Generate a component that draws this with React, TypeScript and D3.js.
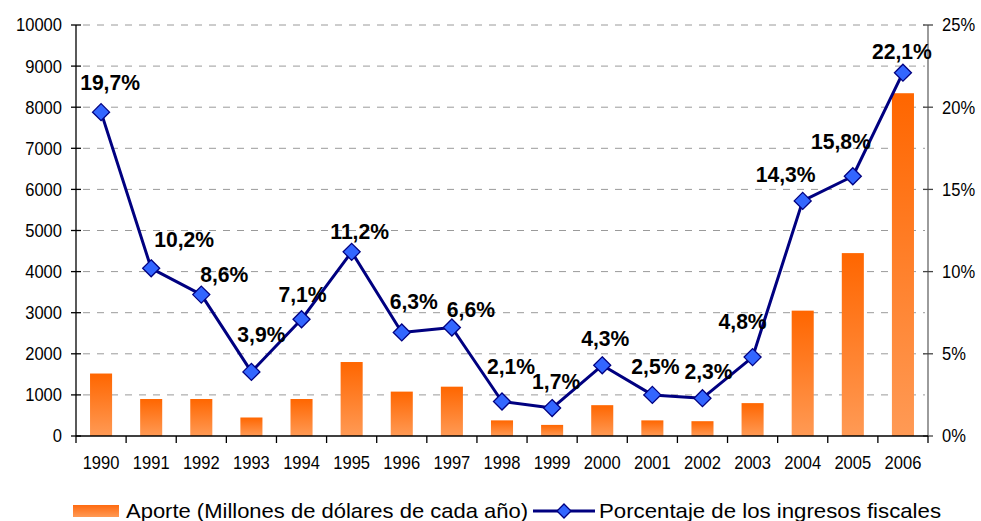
import React from "react";
import * as d3 from "d3";

const years = ["1990","1991","1992","1993","1994","1995","1996","1997","1998","1999","2000","2001","2002","2003","2004","2005","2006"];
const aporte = [1520, 900, 900, 450, 900, 1800, 1080, 1200, 380, 270, 750, 380, 360, 800, 3050, 4450, 8340];
const porcentaje = [19.7, 10.2, 8.6, 3.9, 7.1, 11.2, 6.3, 6.6, 2.1, 1.7, 4.3, 2.5, 2.3, 4.8, 14.3, 15.8, 22.1];
const pctLabels = ["19,7%","10,2%","8,6%","3,9%","7,1%","11,2%","6,3%","6,6%","2,1%","1,7%","4,3%","2,5%","2,3%","4,8%","14,3%","15,8%","22,1%"];
const leftTicks = [0,1000,2000,3000,4000,5000,6000,7000,8000,9000,10000];
const rightTicks = [0,5,10,15,20,25];
const legendBar = "Aporte (Millones de dólares de cada año)";
const legendLine = "Porcentaje de los ingresos fiscales";
// label placement offsets (label centre/baseline relative to point)
const labelDx = [9, 33, 23, 10, 1, 8, 12, 19, 9, 4, 3, 3, 6, -10, -17, -12, -1];
const labelDy = [-22, -21, -13, -30, -17, -13, -23, -10, -27, -19, -19, -21, -19, -28, -19, -27, -14];

const W = 981, H = 521;
const L = 76, R = 928, T = 25, B = 436;
const FONT = "'Liberation Sans', Arial, sans-serif";

function SText(props: { x: number; y: number; anchor: string; size: number; sx?: number; weight?: string; children: React.ReactNode; dy?: string }) {
  const { x, y, anchor, size, sx = 0.92, weight = "normal", children, dy } = props;
  return (
    <g transform={`translate(${x},${y}) scale(${sx},1)`}>
      <text x={0} y={0} dy={dy} textAnchor={anchor as any} fontSize={size} fontWeight={weight}>{children}</text>
    </g>
  );
}

export default function App() {
  const x = d3.scaleBand<string>().domain(years).range([L, R]).padding(0);
  const yL = d3.scaleLinear().domain([0, 10000]).range([B, T]);
  const yR = d3.scaleLinear().domain([0, 25]).range([B, T]);
  const bw = x.bandwidth();
  const cx = (yr: string) => (x(yr) as number) + bw / 2;
  const line = d3.line<number>().x((_, i) => cx(years[i])).y((d) => yR(d));
  const diamond = (px: number, py: number, r = 8.5) =>
    `M${px},${py - r}L${px + r},${py}L${px},${py + r}L${px - r},${py}Z`;
  const boundaries = d3.range(years.length + 1).map((k) => L + k * bw);

  return (
    <div style={{ position: "absolute", left: 0, top: 0 }}>
      <svg width={W} height={H} style={{ display: "block", background: "#fff" }} fontFamily={FONT}>
        <defs>
          <linearGradient id="barGrad" x1="0" y1="0" x2="0" y2="1">
            <stop offset="0%" stopColor="#FF6600" />
            <stop offset="100%" stopColor="#FF9A55" />
          </linearGradient>
          <linearGradient id="legGrad" x1="0" y1="0" x2="0" y2="1">
            <stop offset="0%" stopColor="#FF6A10" />
            <stop offset="100%" stopColor="#FF9A55" />
          </linearGradient>
        </defs>
        {/* gridlines */}
        {leftTicks.filter((t) => t > 0).map((t) => (
          <line key={"g" + t} x1={L + 7} x2={R - 3} y1={yL(t)} y2={yL(t)} stroke="#9a9a9a" strokeWidth={1} strokeDasharray="7,7" />
        ))}
        {/* bars */}
        {aporte.map((v, i) => (
          <rect key={"b" + i} x={cx(years[i]) - bw * 0.22} width={bw * 0.44} y={yL(v)} height={B - yL(v)} fill="url(#barGrad)" />
        ))}
        {/* left axis */}
        <line x1={L} x2={L} y1={T} y2={B} stroke="#000" strokeWidth={1.3} />
        {leftTicks.map((t) => (
          <g key={"lt" + t}>
            <line x1={L - 5} x2={L + 5} y1={yL(t)} y2={yL(t)} stroke="#000" strokeWidth={1.3} />
            <SText x={62} y={yL(t)} dy="0.36em" anchor="end" size={18}>{t}</SText>
          </g>
        ))}
        {/* right axis */}
        <line x1={R} x2={R} y1={T} y2={B} stroke="#666" strokeWidth={1.3} />
        {rightTicks.map((t) => (
          <g key={"rt" + t}>
            <line x1={R - 5} x2={R + 5} y1={yR(t)} y2={yR(t)} stroke="#444" strokeWidth={1.3} />
            <SText x={942} y={yR(t)} dy="0.36em" anchor="start" size={18}>{t + "%"}</SText>
          </g>
        ))}
        {/* x axis */}
        <line x1={L} x2={R} y1={B} y2={B} stroke="#000" strokeWidth={1.3} />
        {boundaries.map((bx, k) => (
          <line key={"xt" + k} x1={bx} x2={bx} y1={B} y2={B + 7} stroke="#000" strokeWidth={1.3} />
        ))}
        {years.map((yr) => (
          <SText key={"xl" + yr} x={cx(yr)} y={469} anchor="middle" size={18}>{yr}</SText>
        ))}
        {/* line series */}
        <path d={line(porcentaje) || ""} fill="none" stroke="#000080" strokeWidth={3} strokeLinejoin="round" />
        {porcentaje.map((v, i) => (
          <path key={"d" + i} d={diamond(cx(years[i]), yR(v))} fill="#3366FF" stroke="#000080" strokeWidth={1.3} />
        ))}
        {porcentaje.map((v, i) => (
          <SText key={"l" + i} x={cx(years[i]) + labelDx[i]} y={yR(v) + labelDy[i]} anchor="middle" size={22} sx={0.96} weight="bold">{pctLabels[i]}</SText>
        ))}
        {/* legend */}
        <rect x={73} y={505} width={46} height={12} fill="url(#legGrad)" />
        <text x={126} y={518} fontSize={21} textLength={402} lengthAdjust="spacingAndGlyphs">{legendBar}</text>
        <line x1={533} x2={595} y1={511} y2={511} stroke="#000080" strokeWidth={3} />
        <path d={diamond(564, 511, 7)} fill="#3366FF" stroke="#000080" strokeWidth={1.3} />
        <text x={599} y={518} fontSize={21} textLength={342} lengthAdjust="spacingAndGlyphs">{legendLine}</text>
      </svg>
    </div>
  );
}
